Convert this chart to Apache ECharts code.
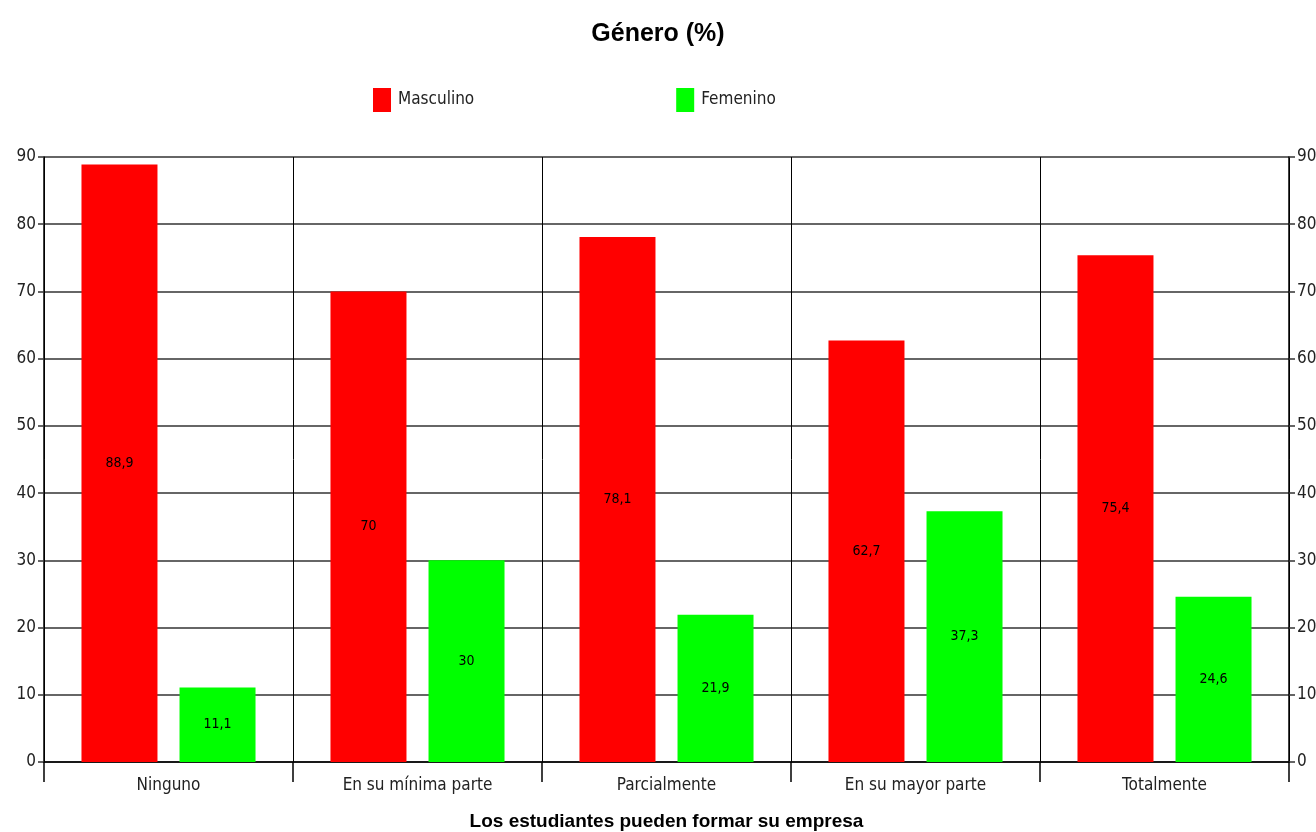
<!DOCTYPE html>
<html>
<head>
<meta charset="utf-8">
<script src="https://cdn.jsdelivr.net/npm/echarts@6/dist/echarts.min.js"></script>
<style>
    html, body { margin: 0; padding: 0; background: #fff; }
    #chart { width: 1316px; height: 832px; }
</style>
</head>
<body>
<div id="chart"></div>
<script>
// datos del grafico
const categorias = ['Ninguno', 'En su mínima parte', 'Parcialmente', 'En su mayor parte', 'Totalmente'];
const masculino = [88.9, 70, 78.1, 62.7, 75.4];
const femenino = [11.1, 30, 21.9, 37.3, 24.6];

const fuente = "'Liberation Sans Narrow', 'DejaVu Sans Condensed', 'Liberation Sans', sans-serif";
const lineaColor = '#333';

function etiqueta(p) {
    return String(p.value).replace('.', ',');
}

function ejeY(pos) {
    return {
        type: 'value',
        position: pos,
        min: 0,
        max: 90,
        interval: 10,
        axisLine: { show: true, lineStyle: { color: '#000', width: 1.5 } },
        axisTick: { show: true, length: 6, lineStyle: { color: lineaColor, width: 1.5 } },
        axisLabel: { color: '#222', fontSize: 17, fontFamily: fuente, margin: 8 },
        splitLine: { show: pos === 'left', lineStyle: { color: lineaColor, width: 1.5 } }
    };
}

var chart = echarts.init(document.getElementById('chart'));
var option = {
    animation: false,
    backgroundColor: '#fff',
    title: {
        text: 'Género (%)',
        left: 'center',
        top: 17,
        textStyle: { fontSize: 25, fontWeight: 'bold', color: '#000', fontFamily: "'Liberation Sans', Arial, sans-serif" }
    },
    legend: {
        left: 368,
        top: 83,
        itemWidth: 18,
        itemHeight: 24,
        itemGap: 202,
        icon: 'rect',
        textStyle: { fontSize: 17, color: '#222', fontFamily: fuente, padding: [0, 0, 0, 2] },
        data: ['Masculino', 'Femenino']
    },
    grid: {
        left: 44,
        right: 27,
        top: 157,
        bottom: 70,
        outerBoundsMode: 'none',
        containLabel: false
    },
    xAxis: {
        type: 'category',
        data: categorias,
        name: 'Los estudiantes pueden formar su empresa',
        nameLocation: 'middle',
        nameGap: 50,
        nameTextStyle: { fontSize: 19, fontWeight: 'bold', color: '#000', fontFamily: "'Liberation Sans', Arial, sans-serif" },
        axisLine: { show: true, lineStyle: { color: '#000', width: 1.5 } },
        axisTick: { show: true, length: 20, interval: 0, lineStyle: { color: '#000', width: 1.5 } },
        axisLabel: { color: '#222', fontSize: 17, fontFamily: fuente, margin: 15, interval: 0 },
        splitLine: { show: true, interval: 0, lineStyle: { color: '#000', width: 1 } }
    },
    yAxis: [ejeY('left'), ejeY('right')],
    series: [
        {
            name: 'Masculino',
            type: 'bar',
            data: masculino,
            barWidth: 76,
            barGap: '29%',
            itemStyle: { color: '#ff0000' },
            label: { show: true, position: 'inside', formatter: etiqueta, color: '#000', fontSize: 14, fontFamily: fuente }
        },
        {
            name: 'Femenino',
            type: 'bar',
            data: femenino,
            barWidth: 76,
            itemStyle: { color: '#00ff00' },
            label: { show: true, position: 'inside', formatter: etiqueta, color: '#000', fontSize: 14, fontFamily: fuente }
        }
    ]
};
chart.setOption(option);
</script>
</body>
</html>
